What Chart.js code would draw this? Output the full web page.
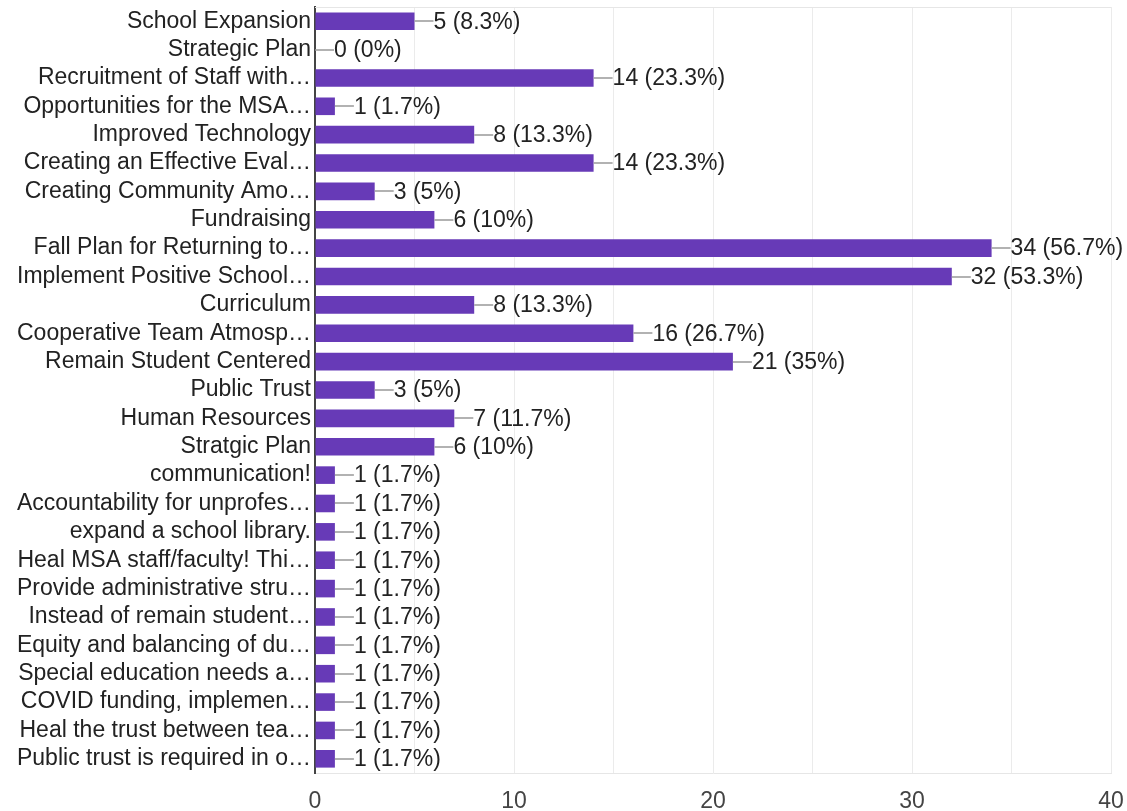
<!DOCTYPE html>
<html>
<head>
<meta charset="utf-8">
<script src="https://cdn.jsdelivr.net/npm/chart.js@4/dist/chart.umd.min.js"></script>
<style>
  html, body { margin: 0; padding: 0; background: #fff; }
  #wrap { width: 1127px; height: 811px; }
</style>
</head>
<body>
<div id="wrap"><canvas id="grafica"></canvas></div>
<script>
const categorias = [
  'School Expansion', 'Strategic Plan', 'Recruitment of Staff with…',
  'Opportunities for the MSA…', 'Improved Technology', 'Creating an Effective Eval…',
  'Creating Community Amo…', 'Fundraising', 'Fall Plan for Returning to…',
  'Implement Positive School…', 'Curriculum', 'Cooperative Team Atmosp…',
  'Remain Student Centered', 'Public Trust', 'Human Resources', 'Stratgic Plan',
  'communication!', 'Accountability for unprofes…', 'expand a school library.',
  'Heal MSA staff/faculty! Thi…', 'Provide administrative stru…',
  'Instead of remain student…', 'Equity and balancing of du…',
  'Special education needs a…', 'COVID funding, implemen…',
  'Heal the trust between tea…', 'Public trust is required in o…'
];
const respuestas = [5, 0, 14, 1, 8, 14, 3, 6, 34, 32, 8, 16, 21, 3, 7, 6, 1, 1, 1, 1, 1, 1, 1, 1, 1, 1, 1];
const porcentajes = ['8.3%', '0%', '23.3%', '1.7%', '13.3%', '23.3%', '5%', '10%', '56.7%', '53.3%',
  '13.3%', '26.7%', '35%', '5%', '11.7%', '10%', '1.7%', '1.7%', '1.7%', '1.7%', '1.7%', '1.7%',
  '1.7%', '1.7%', '1.7%', '1.7%', '1.7%'];
const ticksX = [0, 10, 20, 30, 40];

const fuente = '"Liberation Sans", Arial, sans-serif';
const tam = 23;

// etiquetas de valor con línea guía
const etiquetas = {
  id: 'etiquetas',
  afterDatasetsDraw(chart) {
    const { ctx, chartArea } = chart;
    const meta = chart.getDatasetMeta(0);
    ctx.save();
    // borde superior
    ctx.strokeStyle = '#e6e6e6';
    ctx.lineWidth = 1;
    ctx.beginPath();
    ctx.moveTo(chartArea.left, chartArea.top + 0.5);
    ctx.lineTo(chartArea.right, chartArea.top + 0.5);
    ctx.stroke();
    ctx.font = tam + 'px ' + fuente;
    ctx.textBaseline = 'middle';
    ctx.fillStyle = '#222';
    meta.data.forEach((bar, i) => {
      const x = bar.x;
      const y = bar.y;
      ctx.strokeStyle = '#999';
      ctx.lineWidth = 1.5;
      ctx.beginPath();
      ctx.moveTo(x, Math.round(y));
      ctx.lineTo(x + 19, Math.round(y));
      ctx.stroke();
      ctx.fillText(`${respuestas[i]} (${porcentajes[i]})`, x + 19, y + 1);
    });
    ctx.restore();
  }
};

new Chart(document.getElementById('grafica'), {
  type: 'bar',
  data: {
    labels: categorias,
    datasets: [{
      data: respuestas,
      backgroundColor: '#673ab7',
      borderWidth: 0,
      categoryPercentage: 1,
      barPercentage: 0.62
    }]
  },
  options: {
    indexAxis: 'y',
    responsive: true,
    maintainAspectRatio: false,
    animation: false,
    layout: { padding: { top: 7, right: 16, left: 0, bottom: 0 } },
    plugins: {
      legend: { display: false },
      tooltip: { enabled: false }
    },
    scales: {
      x: {
        min: 0,
        max: 40,
        ticks: {
          stepSize: 5,
          autoSkip: false,
          maxRotation: 0,
          color: '#444',
          padding: 15,
          font: { family: fuente, size: tam },
          callback: v => ticksX.includes(v) ? String(v) : ''
        },
        grid: { color: '#ebebeb', drawTicks: false },
        border: { color: '#e6e6e6' },
        afterFit: s => { s.height = 38; s.paddingLeft = 0; s.paddingRight = 0; }
      },
      y: {
        ticks: {
          color: '#222',
          padding: 4,
          autoSkip: false,
          font: { family: fuente, size: tam }
        },
        grid: { display: false, drawTicks: false },
        border: { color: '#444', width: 2 },
        afterFit: s => { s.width = 315; s.paddingTop = 0; s.paddingBottom = 0; }
      }
    }
  },
  plugins: [etiquetas]
});
</script>
</body>
</html>
